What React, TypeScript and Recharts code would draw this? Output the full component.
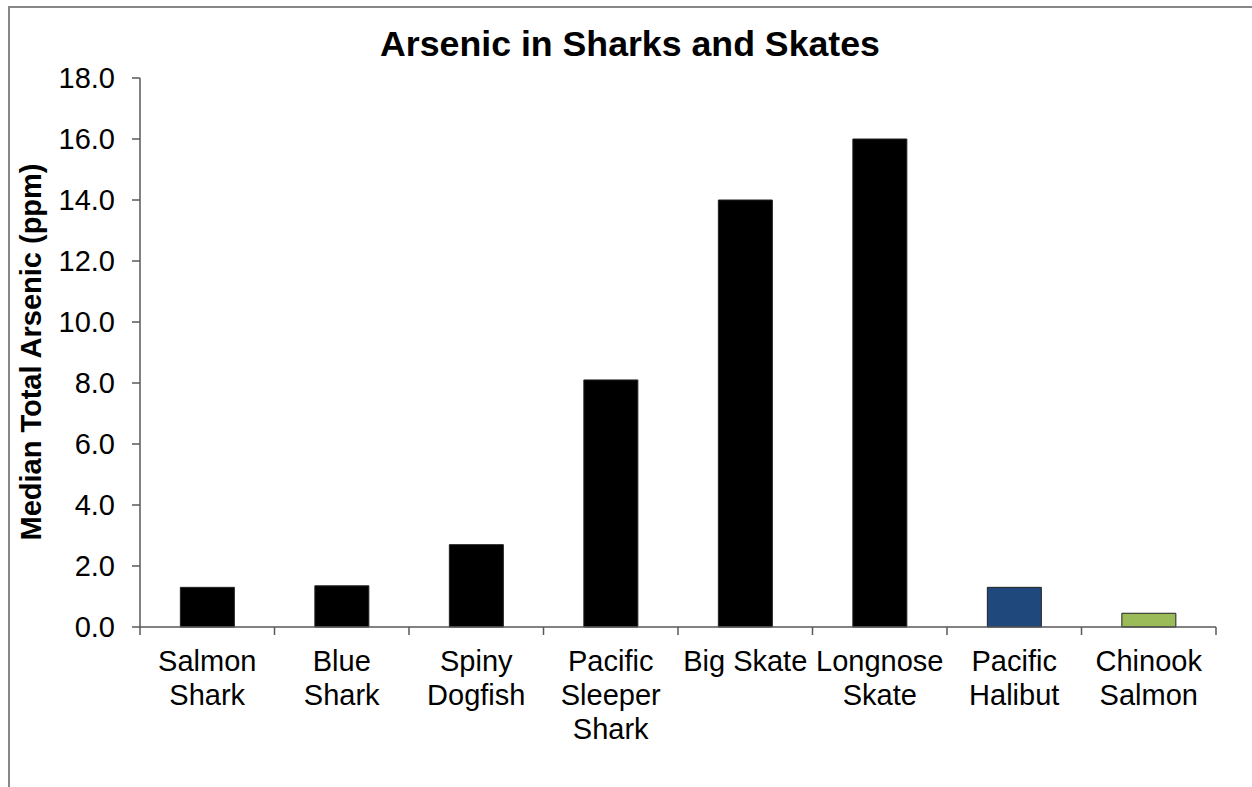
import type { FC } from "react";
import { BarChart, Bar, Cell, XAxis, YAxis } from "recharts";

const categories = [
  "Salmon Shark",
  "Blue Shark",
  "Spiny Dogfish",
  "Pacific Sleeper Shark",
  "Big Skate",
  "Longnose Skate",
  "Pacific Halibut",
  "Chinook Salmon",
];

// how each category label wraps under the axis
const tickLines = [
  ["Salmon", "Shark"],
  ["Blue", "Shark"],
  ["Spiny", "Dogfish"],
  ["Pacific", "Sleeper", "Shark"],
  ["Big Skate"],
  ["Longnose", "Skate"],
  ["Pacific", "Halibut"],
  ["Chinook", "Salmon"],
];

const arsenic = [1.3, 1.35, 2.7, 8.1, 14.0, 16.0, 1.3, 0.45];

const yTicks = [0, 2, 4, 6, 8, 10, 12, 14, 16, 18];

const barColors = [
  "#000000",
  "#000000",
  "#000000",
  "#000000",
  "#000000",
  "#000000",
  "#1F497D",
  "#9BBB59",
];

const data = categories.map((name, i) => ({ name, value: arsenic[i] }));

const FONT = "'Liberation Sans', Arial, sans-serif";
const AXIS_COLOR = "#595959";
const WIDTH = 1252;
const HEIGHT = 787;
const MARGIN = { top: 78, right: 36, bottom: 0, left: 0 };
const Y_AXIS_W = 140;
const BAND = (WIDTH - MARGIN.right - Y_AXIS_W) / categories.length;

const CategoryTick: FC<any> = ({ x, y, payload, index }) => {
  const lines = tickLines[payload.index ?? index] || [payload.value];
  const left = x - BAND / 2;
  const last = (payload.index ?? index) === categories.length - 1;
  return (
    <g>
      <line x1={left} x2={left} y1={y} y2={y + 8} stroke={AXIS_COLOR} strokeWidth={1.5} />
      {last && (
        <line x1={x + BAND / 2} x2={x + BAND / 2} y1={y} y2={y + 8} stroke={AXIS_COLOR} strokeWidth={1.5} />
      )}
      <text x={x} y={y + 44} textAnchor="middle" fontFamily={FONT} fontSize={29} fill="#000">
        {lines.map((ln: string, i: number) => (
          <tspan key={i} x={x} dy={i === 0 ? 0 : 34}>
            {ln}
          </tspan>
        ))}
      </text>
    </g>
  );
};

const YLabel: FC<any> = () => (
  <text
    x={41}
    y={352}
    transform="rotate(-90, 41, 352)"
    textAnchor="middle"
    fontFamily={FONT}
    fontSize={29}
    fontWeight="bold"
    fill="#000"
  >
    Median Total Arsenic (ppm)
  </text>
);

const App: FC = () => {
  return (
    <div
      style={{
        position: "absolute",
        left: 0,
        top: 0,
        width: WIDTH,
        height: HEIGHT,
        overflow: "hidden",
        background: "#fff",
        fontFamily: FONT,
      }}
    >
      <div
        style={{
          position: "absolute",
          left: 8,
          top: 6,
          width: 1300,
          height: 820,
          border: "2px solid #878787",
        }}
      />
      <div
        style={{
          position: "absolute",
          left: 630,
          top: 27,
          transform: "translateX(-50%)",
          fontSize: 35.7,
          lineHeight: "35px",
          fontWeight: "bold",
          whiteSpace: "nowrap",
          color: "#000",
        }}
      >
        Arsenic in Sharks and Skates
      </div>
      <div style={{ position: "absolute", left: 0, top: 0 }}>
        <BarChart width={WIDTH} height={HEIGHT} data={data} margin={MARGIN} barCategoryGap="30%">
          <XAxis
            dataKey="name"
            height={160}
            interval={0}
            tickLine={false}
            tickSize={0}
            tickMargin={0}
            axisLine={{ stroke: AXIS_COLOR, strokeWidth: 1.5 }}
            tick={<CategoryTick />}
          />
          <YAxis
            width={Y_AXIS_W}
            domain={[0, 18]}
            ticks={yTicks}
            interval={0}
            tickSize={8}
            tickMargin={17}
            tickFormatter={(v: number) => v.toFixed(1)}
            axisLine={{ stroke: AXIS_COLOR, strokeWidth: 1.5 }}
            tickLine={{ stroke: AXIS_COLOR, strokeWidth: 1.5 }}
            tick={{ fontFamily: FONT, fontSize: 29, fill: "#000" }}
            label={<YLabel />}
          />
          <Bar dataKey="value" isAnimationActive={false} stroke="#222" strokeWidth={1}>
            {data.map((d, i) => (
              <Cell key={`cell-${i}`} fill={barColors[i]} />
            ))}
          </Bar>
        </BarChart>
      </div>
    </div>
  );
};

export default App;
